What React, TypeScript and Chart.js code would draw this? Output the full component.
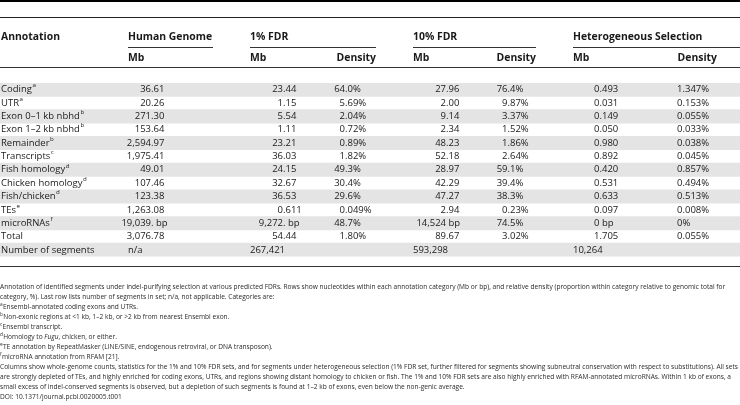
import React, { useEffect, useRef } from 'react';
import { Chart, registerables } from 'chart.js';
Chart.register(...registerables);

// ---------- DATA ----------
const annotations = [
  'Coding', 'UTR', 'Exon 0–1 kb nbhd', 'Exon 1–2 kb nbhd', 'Remainder', 'Transcripts',
  'Fish homology', 'Chicken homology', 'Fish/chicken', 'TEs', 'microRNAs', 'Total', 'Number of segments',
];
const annotationNotes = ['a', 'a', 'b', 'b', 'b', 'c', 'd', 'd', 'd', 'e', 'f', '', ''];
const humanMb = ['36.61', '20.26', '271.30', '153.64', '2,594.97', '1,975.41', '49.01', '107.46', '123.38', '1,263.08', '19,039. bp', '3,076.78', 'n/a'];
const fdr1Mb = ['23.44', '1.15', '5.54', '1.11', '23.21', '36.03', '24.15', '32.67', '36.53', '0.611', '9,272. bp', '54.44', '267,421'];
const fdr1Density = ['64.0%', '5.69%', '2.04%', '0.72%', '0.89%', '1.82%', '49.3%', '30.4%', '29.6%', '0.049%', '48.7%', '1.80%', ''];
const fdr10Mb = ['27.96', '2.00', '9.14', '2.34', '48.23', '52.18', '28.97', '42.29', '47.27', '2.94', '14,524 bp', '89.67', '593,298'];
const fdr10Density = ['76.4%', '9.87%', '3.37%', '1.52%', '1.86%', '2.64%', '59.1%', '39.4%', '38.3%', '0.23%', '74.5%', '3.02%', ''];
const hetMb = ['0.493', '0.031', '0.149', '0.050', '0.980', '0.892', '0.420', '0.531', '0.633', '0.097', '0 bp', '1.705', '10,264'];
const hetDensity = ['1.347%', '0.153%', '0.055%', '0.033%', '0.038%', '0.045%', '0.857%', '0.494%', '0.513%', '0.008%', '0%', '0.055%', ''];

const firstHeader = 'Annotation';
const groupHeaders = ['Human Genome', '1% FDR', '10% FDR', 'Heterogeneous Selection'];
const subHeaders = ['Mb', 'Mb', 'Density', 'Mb', 'Density', 'Mb', 'Density'];

const footnoteLines: { sup?: string; runs: { t: string; i?: boolean }[] }[] = [
  { runs: [{ t: 'Annotation of identified segments under indel-purifying selection at various predicted FDRs. Rows show nucleotides within each annotation category (Mb or bp), and relative density (proportion within category relative to genomic total for' }] },
  { runs: [{ t: 'category, %). Last row lists number of segments in set; n/a, not applicable. Categories are:' }] },
  { sup: 'a', runs: [{ t: 'Ensembl-annotated coding exons and UTRs.' }] },
  { sup: 'b', runs: [{ t: 'Non-exonic regions at <1 kb, 1–2 kb, or >2 kb from nearest Ensembl exon.' }] },
  { sup: 'c', runs: [{ t: 'Ensembl transcript.' }] },
  { sup: 'd', runs: [{ t: 'Homology to ' }, { t: 'Fugu', i: true }, { t: ', chicken, or either.' }] },
  { sup: 'e', runs: [{ t: 'TE annotation by RepeatMasker (LINE/SINE, endogenous retroviral, or DNA transposon).' }] },
  { sup: 'f', runs: [{ t: 'microRNA annotation from RFAM [21].' }] },
  { runs: [{ t: 'Columns show whole-genome counts, statistics for the 1% and 10% FDR sets, and for segments under heterogeneous selection (1% FDR set, further filtered for segments showing subneutral conservation with respect to substitutions). All sets' }] },
  { runs: [{ t: 'are strongly depleted of TEs, and highly enriched for coding exons, UTRs, and regions showing distant homology to chicken or fish. The 1% and 10% FDR sets are also highly enriched with RFAM-annotated microRNAs. Within 1 kb of exons, a' }] },
  { runs: [{ t: 'small excess of indel-conserved segments is observed, but a depletion of such segments is found at 1–2 kb of exons, even below the non-genic average.' }] },
  { runs: [{ t: 'DOI: 10.1371/journal.pcbi.0020005.t001' }] },
];

// ---------- LAYOUT ----------
const W = 740;
const H = 405;
const FONT = '"Open Sans", sans-serif';
const CELL = 9.5;
const HEAD = 10.4;
const NOTE = 6.6;
const BODY_TOP = 83;
const ROW_H = 13.35;
const BODY_BOTTOM = BODY_TOP + ROW_H * annotations.length;

const groupLeft = [128, 250, 413, 573];
const groupRight = [213, 376, 536, 740];
const subX: { x: number; align: CanvasTextAlign }[] = [
  { x: 128, align: 'left' }, { x: 250, align: 'left' }, { x: 376, align: 'right' },
  { x: 413, align: 'left' }, { x: 536, align: 'right' }, { x: 573, align: 'left' }, { x: 717, align: 'right' },
];
const columns = [
  { values: humanMb, dec: 151, left: 128 },
  { values: fdr1Mb, dec: 283, left: 250 },
  { values: fdr1Density, dec: 345, left: 337 },
  { values: fdr10Mb, dec: 446, left: 413 },
  { values: fdr10Density, dec: 507.5, left: 496 },
  { values: hetMb, dec: 599.5, left: 573 },
  { values: hetDensity, dec: 682.5, left: 677 },
];

function splitDec(s: string): [string, string] {
  let idx = s.indexOf('.');
  if (idx < 0) {
    idx = s.length;
    for (let k = 0; k < s.length; k++) {
      if (!'0123456789,'.includes(s[k])) { idx = k; break; }
    }
  }
  return [s.slice(0, idx), s.slice(idx)];
}

const tablePlugin = {
  id: 'tableText',
  afterDatasetsDraw(chart: any) {
    const { ctx } = chart;
    const xs = chart.scales.x;
    const ys = chart.scales.y;
    const px = (v: number) => xs.getPixelForValue(v);
    ctx.save();

    const hline = (x0: number, x1: number, y: number, lw: number, color: string) => {
      ctx.beginPath();
      ctx.strokeStyle = color;
      ctx.lineWidth = lw;
      ctx.moveTo(px(x0), y);
      ctx.lineTo(px(x1), y);
      ctx.stroke();
    };

    // rules
    hline(0, W, 1, 2, '#000');
    hline(0, W, 17.5, 1.2, '#222');
    groupLeft.forEach((l, i) => hline(l, groupRight[i], 47.5, 1, '#333'));
    hline(0, W, 67.5, 1, '#333');
    hline(0, W, 266.5, 1, '#333');

    // headers
    ctx.fillStyle = '#1a1a1a';
    ctx.textBaseline = 'middle';
    ctx.font = `bold ${HEAD}px ${FONT}`;
    ctx.textAlign = 'left';
    ctx.fillText(firstHeader, px(1), 37);
    groupHeaders.forEach((g, i) => ctx.fillText(g, px(groupLeft[i]), 37));
    subHeaders.forEach((s, i) => {
      ctx.textAlign = subX[i].align;
      ctx.fillText(s, px(subX[i].x), 58);
    });

    // body
    annotations.forEach((label, r) => {
      const y = ys.getPixelForValue(r);
      ctx.font = `${CELL}px ${FONT}`;
      ctx.textAlign = 'left';
      ctx.fillStyle = '#1a1a1a';
      ctx.fillText(label, px(1), y);
      if (annotationNotes[r]) {
        const w = ctx.measureText(label).width;
        ctx.font = `${CELL * 0.65}px ${FONT}`;
        ctx.fillText(annotationNotes[r], px(1) + w + 0.5, y - 4);
        ctx.font = `${CELL}px ${FONT}`;
      }
      const last = r === annotations.length - 1;
      columns.forEach((c) => {
        const s = c.values[r];
        if (!s) return;
        if (last) {
          ctx.textAlign = 'left';
          ctx.fillText(s, px(c.left), y);
          return;
        }
        const [a, b] = splitDec(s);
        ctx.textAlign = 'right';
        ctx.fillText(a, px(c.dec), y);
        ctx.textAlign = 'left';
        ctx.fillText(b, px(c.dec), y);
      });
    });

    // footnotes
    ctx.fillStyle = '#2a2a2a';
    ctx.textAlign = 'left';
    footnoteLines.forEach((ln, i) => {
      const y = 287 + i * 10;
      let x = px(0);
      if (ln.sup) {
        ctx.font = `${NOTE * 0.72}px ${FONT}`;
        ctx.fillText(ln.sup, x, y - 2.5);
        x += ctx.measureText(ln.sup).width + 0.3;
      }
      ln.runs.forEach((run) => {
        ctx.font = `${run.i ? 'italic ' : ''}${NOTE}px ${FONT}`;
        ctx.fillText(run.t, x, y);
        x += ctx.measureText(run.t).width;
      });
    });

    ctx.restore();
  },
};

export default function App() {
  const ref = useRef<HTMLCanvasElement | null>(null);
  useEffect(() => {
    const canvas = ref.current;
    if (!canvas) return;
    const bands = annotations.map((_, i) => (i % 2 === 0 ? [0, W] : null));
    const chart = new Chart(canvas, {
      type: 'bar',
      data: {
        labels: annotations,
        datasets: [
          {
            data: bands as any,
            backgroundColor: '#e4e4e4',
            borderWidth: 0,
            barPercentage: 1,
            categoryPercentage: 1,
          },
        ],
      },
      options: {
        indexAxis: 'y',
        responsive: false,
        animation: false,
        events: [],
        layout: { padding: { top: BODY_TOP, bottom: H - BODY_BOTTOM, left: 0, right: 0 } },
        scales: {
          x: { type: 'linear', min: 0, max: W, display: false },
          y: { type: 'category', display: false, offset: true },
        },
        plugins: { legend: { display: false }, tooltip: { enabled: false } },
      },
      plugins: [tablePlugin],
    });
    return () => chart.destroy();
  }, []);
  return (
    <div style={{ position: 'fixed', left: 0, top: 0, width: W, height: H, background: '#fff' }}>
      <canvas ref={ref} width={W} height={H} style={{ display: 'block', width: W, height: H }} />
    </div>
  );
}
